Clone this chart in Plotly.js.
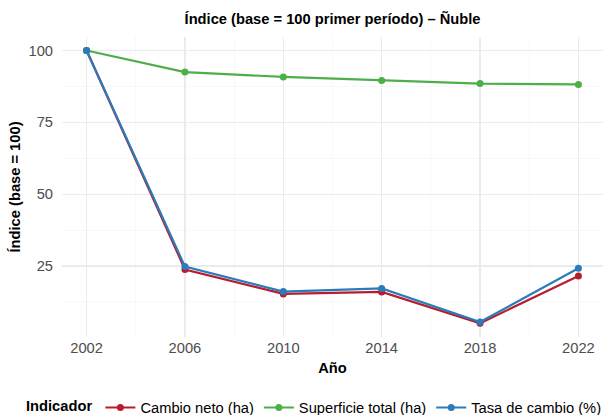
<!DOCTYPE html>
<html>
<head>
<meta charset="utf-8">
<script src="https://cdn.plot.ly/plotly-3.0.1.min.js"></script>
<style>html,body{margin:0;padding:0;background:#fff;}#chart{width:607px;height:415px;}</style>
</head>
<body>
<div id="chart"></div>
<script>
const years = [2002, 2006, 2010, 2014, 2018, 2022];
const cambioNeto = [100, 23.8, 15.3, 16.0, 5.1, 21.5];
const superficieTotal = [100, 92.5, 90.8, 89.6, 88.5, 88.2];
const tasaCambio = [100, 24.8, 16.1, 17.2, 5.5, 24.2];
const seriesNames = ["Cambio neto (ha)", "Superficie total (ha)", "Tasa de cambio (%)"];
const seriesColors = ["#B81D2E", "#4DAF4A", "#2B7BBA"];
const seriesValues = [cambioNeto, superficieTotal, tasaCambio];
const xTicks = [2002, 2006, 2010, 2014, 2018, 2022];
const yTicks = [25, 50, 75, 100];

const FONT = "Liberation Sans, Arial, sans-serif";
const traces = seriesNames.map((n, i) => ({
  x: years, y: seriesValues[i], name: n, type: "scatter", mode: "lines+markers",
  line: {color: seriesColors[i], width: 2.2},
  marker: {color: seriesColors[i], size: 7}
}));

const layout = {
  width: 607, height: 415,
  margin: {l: 62, r: 4, t: 37, b: 78, autoexpand: false},
  paper_bgcolor: "#fff", plot_bgcolor: "#fff",
  font: {family: FONT, color: "#4d4d4d", size: 14.7},
  title: {text: "<b>Índice (base = 100 primer período) – Ñuble</b>", font: {family: FONT, size: 14.7, color: "#000"},
          x: 0.5, xref: "paper", xanchor: "center", y: 0.954, yref: "container", yanchor: "middle"},
  xaxis: {
    range: [2001, 2023], tickvals: xTicks, ticktext: xTicks.map(String),
    showgrid: true, gridcolor: "#ebebeb", gridwidth: 1.1,
    minor: {dtick: 2, tick0: 2000, showgrid: true, gridcolor: "#f3f3f3", gridwidth: 0.6},
    zeroline: false, showline: false, ticks: "", automargin: false,
    tickfont: {size: 14.7, color: "#4d4d4d"},
    title: {text: "<b>Año</b>", font: {size: 14.7, color: "#000"}, standoff: 8}
  },
  yaxis: {
    range: [0.3, 104.7], tickvals: yTicks, ticktext: yTicks.map(String),
    showgrid: true, gridcolor: "#ebebeb", gridwidth: 1.1,
    minor: {tickvals: [12.5, 37.5, 62.5, 87.5], showgrid: true, gridcolor: "#f3f3f3", gridwidth: 0.6},
    zeroline: false, showline: false, ticks: "outside", ticklen: 5, tickcolor: "rgba(0,0,0,0)", automargin: false,
    tickfont: {size: 14.7, color: "#4d4d4d"},
    title: {text: "<b>Índice (base = 100)</b>", font: {size: 14.7, color: "#000"}, standoff: 4}
  },
  showlegend: true,
  legend: {
    orientation: "h", xref: "container", x: 1, xanchor: "right", yref: "container", y: 0.017, yanchor: "middle",
    font: {size: 14.7, color: "#000"},
    title: {text: "<b>Indicador</b>", font: {size: 14.7, color: "#000"}, side: "left"},
    itemwidth: 30, tracegroupgap: 0, bgcolor: "rgba(0,0,0,0)", borderwidth: 0
  }
};

Plotly.newPlot("chart", traces, layout, {displayModeBar: false, staticPlot: true});
</script>
</body>
</html>
